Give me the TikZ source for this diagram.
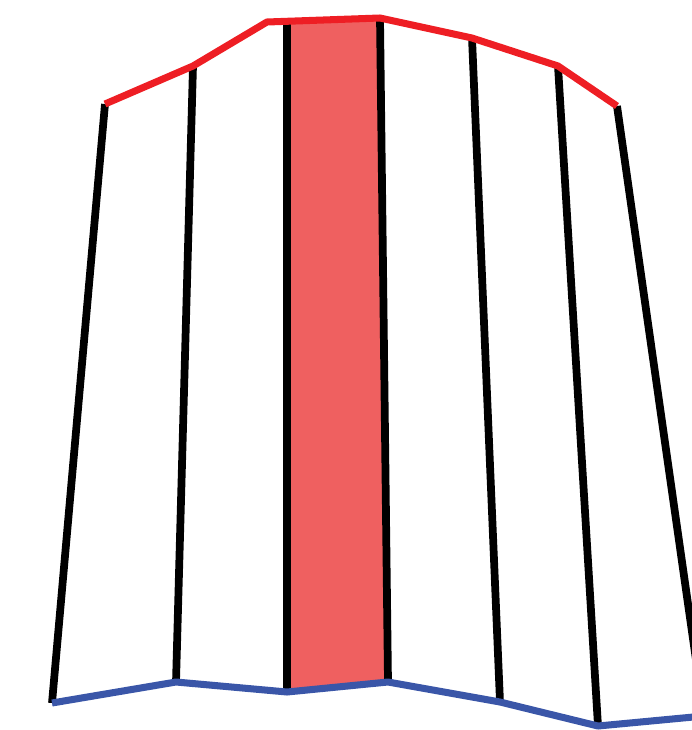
\documentclass[tikz,border=0pt]{standalone}
\usepackage{tikz}
\definecolor{stripred}{RGB}{238,30,36}
\definecolor{stripfill}{RGB}{239,96,96}
\definecolor{stripblue}{RGB}{58,86,168}

\begin{document}
\begin{tikzpicture}[x=0.02cm, y=-0.02cm,
  rib/.style={draw=black, line width=4.4pt},
  topedge/.style={draw=stripred, line width=4pt, line join=round},
  botedge/.style={draw=stripblue, line width=4pt, line join=round}]
\useasboundingbox (0,0) rectangle (692,730);
\clip (0,0) rectangle (692,730);
% top and bottom ends of the ribs
\coordinate (t1) at (105,104); \coordinate (b1) at (52,703);
\coordinate (t2) at (193,66);  \coordinate (b2) at (176,682);
\coordinate (t3) at (287,21);  \coordinate (b3) at (287,692);
\coordinate (t4) at (380,18);  \coordinate (b4) at (388,682);
\coordinate (t5) at (472,38);  \coordinate (b5) at (500,702);
\coordinate (t6) at (558,66);  \coordinate (b6) at (598,726);
\coordinate (t7) at (617,106); \coordinate (b7) at (704,716);
\coordinate (tk) at (267,22);
% shaded strip
\fill[stripfill] (t3) -- (t4) -- (b4) -- (b3) -- cycle;
\foreach \i in {1,...,7}
  \draw[rib] (t\i) -- (b\i);
\draw[topedge] (t1) -- (t2) -- (tk) -- (t4) -- (t5) -- (t6) -- (t7);
\draw[botedge] (b1) -- (b2) -- (b3) -- (b4) -- (b5) -- (b6) -- (b7);
\end{tikzpicture}
\end{document}
